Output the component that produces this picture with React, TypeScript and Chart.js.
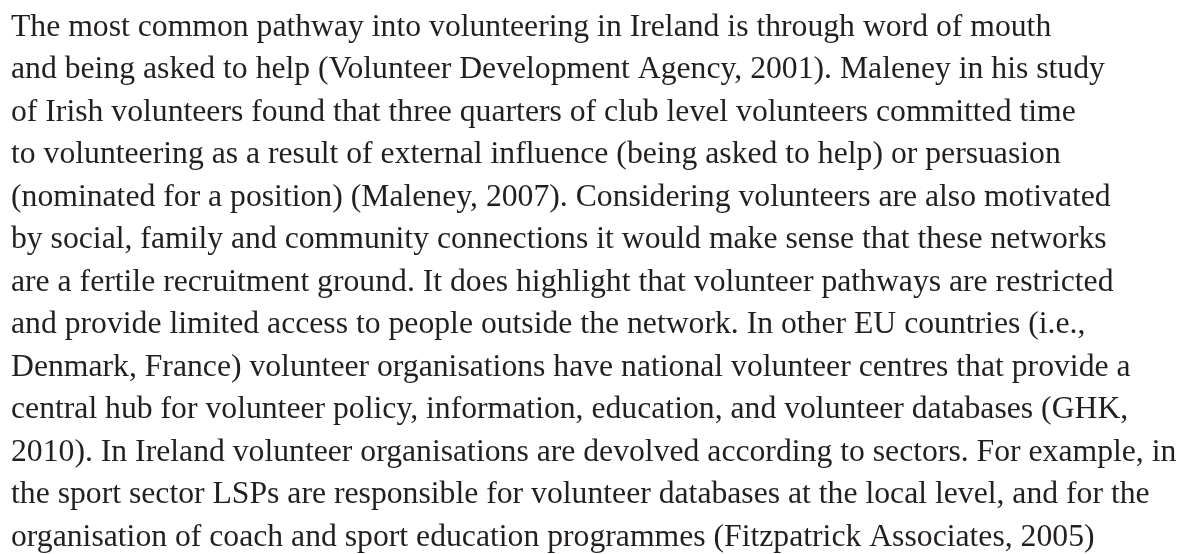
import React, { useEffect, useRef } from "react";
import { Chart, registerables } from "chart.js";

Chart.register(...registerables);

const PARAGRAPH_LINES: string[] = [
  "The most common pathway into volunteering in Ireland is through word of mouth",
  "and being asked to help (Volunteer Development Agency, 2001). Maleney in his study",
  "of Irish volunteers found that three quarters of club level volunteers committed time",
  "to volunteering as a result of external influence (being asked to help) or persuasion",
  "(nominated for a position) (Maleney, 2007). Considering volunteers are also motivated",
  "by social, family and community connections it would make sense that these networks",
  "are a fertile recruitment ground. It does highlight that volunteer pathways are restricted",
  "and provide limited access to people outside the network. In other EU countries (i.e.,",
  "Denmark, France) volunteer organisations have national volunteer centres that provide a",
  "central hub for volunteer policy, information, education, and volunteer databases (GHK,",
  "2010). In Ireland volunteer organisations are devolved according to sectors. For example, in",
  "the sport sector LSPs are responsible for volunteer databases at the local level, and for the",
  "organisation of coach and sport education programmes (Fitzpatrick Associates, 2005)",
];

const CATEGORIES: string[] = [];
const SERIES_VALUES: number[] = [];

export default function App() {
  const canvasRef = useRef<HTMLCanvasElement | null>(null);

  useEffect(() => {
    document.body.style.margin = "0";
    document.body.style.background = "#ffffff";
    const canvas = canvasRef.current;
    if (!canvas) return;
    const chart = new Chart(canvas, {
      type: "bar",
      data: {
        labels: CATEGORIES,
        datasets: [{ data: SERIES_VALUES, backgroundColor: "#231f20" }],
      },
      options: {
        animation: false,
        responsive: false,
        maintainAspectRatio: false,
        layout: { padding: { left: 11, top: 0, right: 0, bottom: 0 } },
        plugins: {
          legend: { display: false },
          tooltip: { enabled: false },
          title: {
            display: true,
            text: PARAGRAPH_LINES,
            align: "start",
            color: "#231f20",
            font: { family: "'Liberation Serif', serif", size: 31.7, weight: "normal", lineHeight: 1.3407 },
            padding: { top: 6, bottom: 0 },
          },
        },
        scales: {
          x: { display: false },
          y: { display: false },
        },
      },
    });
    return () => chart.destroy();
  }, []);

  return (
    <div style={{ width: 1178, height: 554, background: "#fff" }}>
      <canvas ref={canvasRef} width={1178} height={554} style={{ display: "block" }} />
    </div>
  );
}
